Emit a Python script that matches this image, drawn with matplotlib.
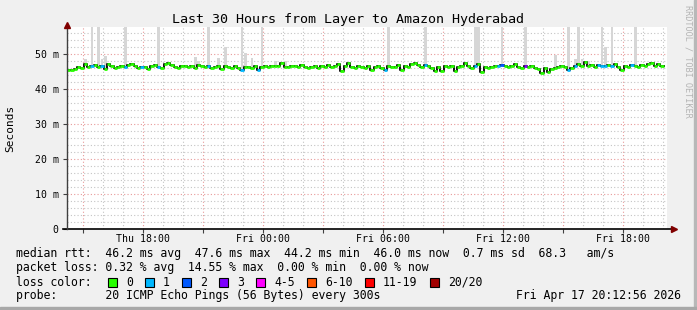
import numpy as np
import pandas as pd
import matplotlib
matplotlib.use("Agg")
import matplotlib.pyplot as plt
from matplotlib.patches import Rectangle
from matplotlib.ticker import FixedLocator, MultipleLocator

# =========================
# Data (10 min bins)
# =========================
END = pd.Timestamp("2026-04-17 20:12:56")
START = END - pd.Timedelta(hours=30)
BIN_H = 10 / 60.0

median_ms = [
    45.3, 45.2, 45.6, 46.2, 45.8, 46.9, 46.3, 46.5, 46.8, 46.1,
    46.6, 45.5, 46.9, 46.4, 46.0, 46.3, 46.5, 46.2, 46.7, 47.0,
    46.4, 45.9, 46.3, 46.1, 45.6, 46.4, 46.8, 46.2, 46.0, 46.9,
    47.3, 46.7, 46.1, 45.8, 46.4, 46.6, 46.2, 46.5, 46.0, 46.7,
    46.4, 46.1, 46.5, 45.9, 46.3, 46.6, 45.7, 46.4, 46.2, 45.8,
    46.5, 46.0, 45.4, 46.3, 46.1, 45.9, 46.6, 45.3, 46.2, 46.4,
    46.3, 46.5, 46.4, 46.6, 47.2, 46.3, 46.2, 46.4, 46.5, 46.3,
    46.8, 46.2, 45.8, 46.3, 46.6, 46.0, 46.4, 46.2, 46.7, 46.1,
    46.5, 46.9, 45.0, 46.4, 47.3, 46.2, 45.9, 46.6, 46.3, 46.0,
    46.4, 45.2, 46.2, 46.6, 46.0, 45.2, 46.5, 46.3, 46.1, 46.8,
    45.3, 46.5, 46.2, 46.9, 47.3, 46.7, 46.2, 46.8, 46.4, 46.0,
    45.0, 46.3, 45.1, 46.5, 46.2, 46.6, 45.0, 46.1, 46.4, 47.3,
    46.5, 45.8, 46.6, 47.0, 44.7, 46.2, 46.0, 46.3, 46.6, 46.4,
    46.8, 46.5, 46.1, 46.4, 46.9, 46.3, 46.0, 46.5, 46.2, 46.6,
    46.0, 45.7, 44.6, 45.9, 44.8, 45.6, 46.0, 46.3, 46.5, 46.2,
    45.2, 46.0, 46.6, 46.9, 46.4, 47.5, 46.5, 46.8, 46.3, 46.7,
    46.5, 46.6, 46.8, 46.4, 46.9, 46.3, 45.3, 46.5, 46.2, 46.8,
    46.6, 46.1, 46.7, 46.4, 46.9, 47.4, 46.6, 46.9, 46.4,
]

# grey smoke spikes (bin index, top in ms)
spike_bins = [5, 7, 9, 10, 11, 17, 27, 38, 39, 42, 45, 47, 52, 53, 55, 58, 62, 65,
              96, 107, 122, 123, 130, 137, 146, 150, 152, 153, 154, 156, 160, 161, 163, 170]
spike_tops = [48.5, 57.6, 57.6, 48.5, 49.2, 57.6, 57.6, 49.0, 48.0, 57.6, 48.8, 52.0, 57.6, 50.3, 48.7, 57.6, 48.0, 48.0,
              57.6, 57.6, 57.6, 57.6, 57.6, 57.6, 49.5, 57.6, 48.5, 57.6, 48.5, 48.0, 57.6, 52.0, 57.6, 57.6]

# lost pings out of 20 (bin index, count)
loss_bins = [7, 10, 17, 22, 27, 42, 52, 57, 95, 107, 122, 129, 130, 137, 150, 152, 159, 160, 161, 163, 169]
loss_counts = [1, 1, 1, 1, 1, 1, 1, 1, 1, 1, 1, 1, 2, 3, 1, 1, 1, 1, 1, 1, 1]

loss_labels = ["0", "1", "2", "3", "4-5", "6-10", "11-19", "20/20"]
loss_colors = ["#26ff00", "#00b8ff", "#0059ff", "#7e00ff", "#ff00ff", "#ff5500", "#ff0000", "#a10000"]

legend_rows = [
    "median rtt:  46.2 ms avg  47.6 ms max  44.2 ms min  46.0 ms now  0.7 ms sd  68.3   am/s",
    "packet loss: 0.32 % avg  14.55 % max  0.00 % min  0.00 % now",
]
probe_text = "probe:       20 ICMP Echo Pings (56 Bytes) every 300s"
stamp_text = "Fri Apr 17 20:12:56 2026"
TITLE = "Last 30 Hours from Layer to Amazon Hyderabad"

MONO = "DejaVu Sans Mono"
W, H = 697, 310


def fx(px):
    return px / W


def fy(py):
    return 1 - py / H


def loss_color(n):
    if n <= 3:
        return loss_colors[n]
    if n <= 5:
        return loss_colors[4]
    if n <= 10:
        return loss_colors[5]
    if n <= 19:
        return loss_colors[6]
    return loss_colors[7]


fig = plt.figure(figsize=(W / 100, H / 100), dpi=100, facecolor="#f0f0f0")

# frame shading
fig.patches.append(Rectangle((fx(W - 3), 0), fx(3), 1, transform=fig.transFigure, color="#b8b8b8", zorder=0))
fig.patches.append(Rectangle((0, 0), 1, 3 / H, transform=fig.transFigure, color="#a8a8a8", zorder=0))

x0, x1, ytop, yzero = 67, 667, 27, 228.7
ax = fig.add_axes([fx(x0), fy(yzero), fx(x1 - x0), (yzero - ytop) / H])
ax.set_facecolor("white")
ax.set_xlim(0, 30)
ax.set_ylim(0, 57.6)
for s in ax.spines.values():
    s.set_visible(False)

med = np.array(median_ms)
n = len(med)
xs = np.arange(n) * BIN_H

# smoke spikes
sb = np.array(spike_bins)
ax.bar(xs[sb] + BIN_H * 0.1, np.array(spike_tops) - med[sb], bottom=med[sb],
       width=BIN_H * 0.8, align="edge", color="#d6d6d6", zorder=2)

# median: black connecting steps + loss coloured segments
edges = np.arange(n + 1) * BIN_H
ax.step(edges, np.append(med, med[-1]), where="post", color="#111111", lw=1.4, zorder=3)
cols = [loss_colors[0]] * n
for b, c in zip(loss_bins, loss_counts):
    cols[b] = loss_color(c)
ax.hlines(med, xs, xs + BIN_H, colors=cols, lw=2.0, zorder=4)

# =========================
# Grid / ticks
# =========================
hours = pd.date_range(START.ceil("h"), END, freq="h")
hour_pos = [(t - START) / pd.Timedelta(hours=1) for t in hours]
major = [(p, t) for p, t in zip(hour_pos, hours) if t.hour % 3 == 0]
ax.xaxis.set_major_locator(FixedLocator([p for p, _ in major]))
ax.set_xticklabels([t.strftime("%a %H:%M") if t.hour % 6 == 0 else "" for _, t in major])
ax.xaxis.set_minor_locator(FixedLocator([p for p, t in zip(hour_pos, hours) if t.hour % 3 != 0]))

ax.set_yticks([0, 10, 20, 30, 40, 50])
ax.set_yticklabels(["0", "10 m", "20 m", "30 m", "40 m", "50 m"])
ax.yaxis.set_minor_locator(MultipleLocator(2))

ax.grid(which="minor", color="#c4c4c4", ls=(0, (1, 2)), lw=0.8, zorder=1)
ax.grid(which="major", color="#e89a9a", ls=(0, (1, 2)), lw=0.8, zorder=1)
ax.tick_params(which="major", length=3, width=0.8, color="#404040",
               labelsize=7.1, labelfontfamily=MONO)
ax.tick_params(which="minor", length=0)
ax.tick_params(axis="x", pad=0.5)
ax.tick_params(axis="y", pad=3)

# axes with arrows
ax.plot([-0.006, 1.008], [0, 0], transform=ax.transAxes, color="black", lw=1.2, clip_on=False, zorder=5)
ax.plot([1.011], [0], transform=ax.transAxes, marker=">", ms=4, color="#800000", clip_on=False, zorder=6)
ax.plot([0, 0], [0, 1.0], transform=ax.transAxes, color="#404040", lw=1.0, clip_on=False, zorder=5)
ax.plot([0], [1.012], transform=ax.transAxes, marker="^", ms=4, color="#800000", clip_on=False, zorder=6)

# =========================
# Texts
# =========================
fig.text(fx(348), fy(19), TITLE, ha="center", va="center", fontsize=9.6, family=MONO)
fig.text(fx(10), fy(128), "Seconds", rotation=90, ha="center", va="center", fontsize=8, family=MONO)
fig.text(fx(688), fy(61), "RRDTOOL / TOBI OETIKER", rotation=270, ha="center", va="center",
         fontsize=6.1, family=MONO, color="#b4b4b4")

row_y = [254, 268, 282, 296]
for txt, y in zip(legend_rows, row_y[:2]):
    fig.text(fx(16), fy(y), txt, ha="left", va="center", fontsize=8.3, family=MONO)

fig.text(fx(16), fy(row_y[2]), "loss color:", ha="left", va="center", fontsize=8.3, family=MONO)
bx = 108
for lab, col in zip(loss_labels, loss_colors):
    fig.patches.append(Rectangle((fx(bx), fy(row_y[2] + 4.5)), fx(9), 9 / H, transform=fig.transFigure,
                                 facecolor=col, edgecolor="black", lw=0.8))
    fig.text(fx(bx + 18), fy(row_y[2]), lab, ha="left", va="center", fontsize=8.3, family=MONO)
    bx += 30 + 7 * len(lab)

fig.text(fx(16), fy(row_y[3]), probe_text, ha="left", va="center", fontsize=8.3, family=MONO)
fig.text(fx(681), fy(row_y[3]), stamp_text, ha="right", va="center", fontsize=8.3, family=MONO)

fig.savefig("out.png", dpi=100, facecolor=fig.get_facecolor())
